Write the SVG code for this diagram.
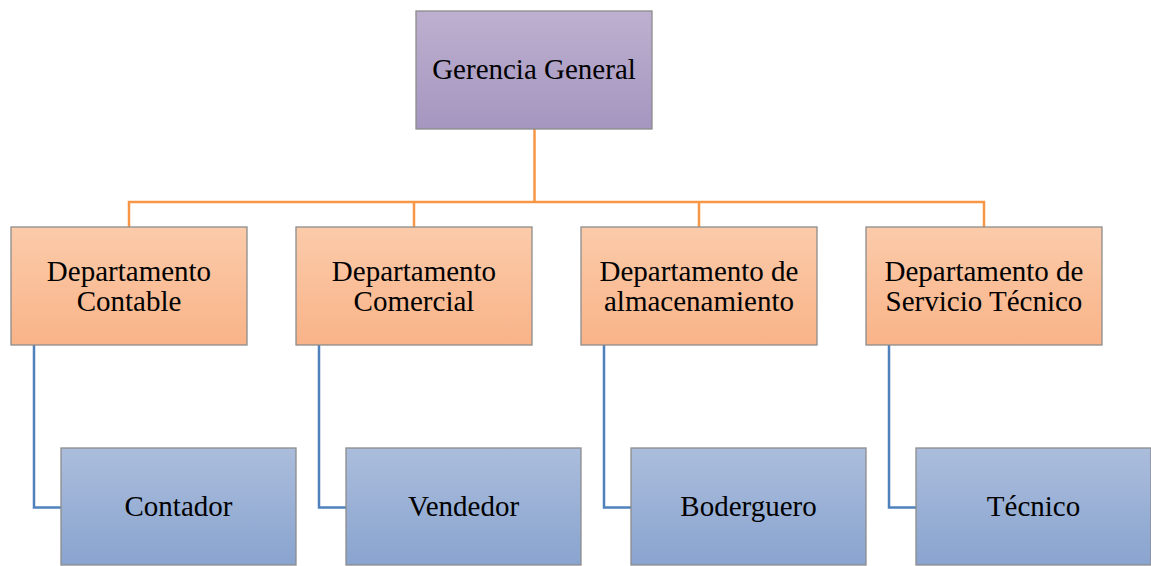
<svg xmlns="http://www.w3.org/2000/svg" width="1151" height="566" viewBox="0 0 1151 566">
<defs>
<linearGradient id="gTop" x1="0" y1="0" x2="0" y2="1"><stop offset="0" stop-color="#bdb0cf"/><stop offset="1" stop-color="#a596c0"/></linearGradient>
<linearGradient id="gDept" x1="0" y1="0" x2="0" y2="1"><stop offset="0" stop-color="#fbcbaa"/><stop offset="1" stop-color="#f9b388"/></linearGradient>
<linearGradient id="gChild" x1="0" y1="0" x2="0" y2="1"><stop offset="0" stop-color="#abbddc"/><stop offset="1" stop-color="#89a4cf"/></linearGradient>
</defs>
<style>
rect{stroke:#8c8c8c;stroke-width:1.3}
.top{fill:url(#gTop)}
.dept{fill:url(#gDept)}
.child{fill:url(#gChild)}
text{font-size:29px;fill:#000;text-anchor:middle}
.o{fill:none;stroke:#f79646;stroke-width:2.5}
.b{fill:none;stroke:#4f81bd;stroke-width:2.5}
</style>
<g id="connectors">
<path class="o" d="M534.5 129V202M129 227V202H984V227M414 202V227M699 202V227"/>
<path class="b" d="M34 345V507.5H61"/>
<path class="b" d="M319 345V507.5H346"/>
<path class="b" d="M604 345V507.5H631"/>
<path class="b" d="M889 345V507.5H916"/>
</g>
<g font-family="'Liberation Serif', serif">
<g id="gerencia"><rect class="top" x="416" y="11" width="236" height="118"/><text x="534" y="79">Gerencia General</text></g>
<g id="dep-contable"><rect class="dept" x="11" y="227" width="236" height="118"/><text x="129" y="281">Departamento</text><text x="129" y="311">Contable</text></g>
<g id="dep-comercial"><rect class="dept" x="296" y="227" width="236" height="118"/><text x="414" y="281">Departamento</text><text x="414" y="311">Comercial</text></g>
<g id="dep-almacen"><rect class="dept" x="581" y="227" width="236" height="118"/><text x="699" y="281">Departamento de</text><text x="699" y="311">almacenamiento</text></g>
<g id="dep-servicio"><rect class="dept" x="866" y="227" width="236" height="118"/><text x="984" y="281">Departamento de</text><text x="984" y="311">Servicio Técnico</text></g>
<g id="contador"><rect class="child" x="61" y="448" width="235" height="117"/><text x="178.5" y="516">Contador</text></g>
<g id="vendedor"><rect class="child" x="346" y="448" width="235" height="117"/><text x="463.5" y="516">Vendedor</text></g>
<g id="boderguero"><rect class="child" x="631" y="448" width="235" height="117"/><text x="748.5" y="516">Boderguero</text></g>
<g id="tecnico"><rect class="child" x="916" y="448" width="235" height="117"/><text x="1033.5" y="516">Técnico</text></g>
</g>
</svg>
